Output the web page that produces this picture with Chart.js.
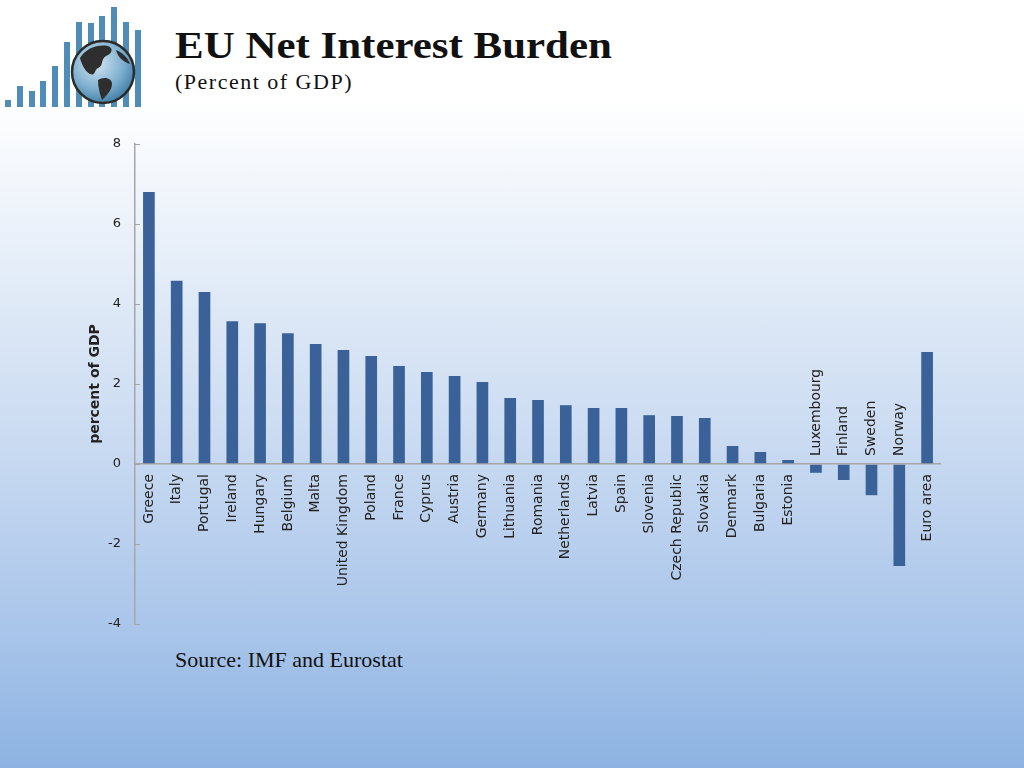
<!DOCTYPE html>
<html>
<head>
<meta charset="utf-8">
<script src="https://cdn.jsdelivr.net/npm/chart.js@4/dist/chart.umd.min.js"></script>
<style>
  html, body { margin: 0; padding: 0; }
  body {
    width: 1024px; height: 768px; overflow: hidden; position: relative;
    background: linear-gradient(to bottom, #ffffff 0%, #ffffff 13%, #e4edf8 35%, #c9daf1 58%, #a9c5ea 82%, #8db3e2 100%);
    font-family: "Liberation Serif", serif;
  }
  #logo { position: absolute; left: 0; top: 0; }
  .txt { position: absolute; left: 175px; white-space: nowrap; color: #111; line-height: 1; transform-origin: left top; }
  #title { top: 26px; font: bold 38px "Liberation Serif", serif; line-height: 1; transform: scaleX(1.13); }
  #subtitle { top: 71px; font: 22px "Liberation Serif", serif; line-height: 1; letter-spacing: 1.5px; }
  #source { top: 649px; font: 22px "Liberation Serif", serif; line-height: 1; }
  #wrap { position: absolute; left: 0; top: 0; width: 1024px; height: 768px; }
</style>
</head>
<body>
<svg id="logo" width="150" height="112" viewBox="0 0 150 112">
  <defs>
    <radialGradient id="gl" cx="0.4" cy="0.35" r="0.7">
      <stop offset="0" stop-color="#d4e6f2"/>
      <stop offset="0.6" stop-color="#7fb0cf"/>
      <stop offset="1" stop-color="#3c7aa3"/>
    </radialGradient>
  </defs>
  <g fill="#4f8db8">
    <rect x="5" y="100" width="6" height="7"/>
    <rect x="17" y="86" width="6" height="21"/>
    <rect x="29" y="91" width="6" height="16"/>
    <rect x="40" y="81" width="6" height="26"/>
    <rect x="52" y="66" width="6" height="41"/>
    <rect x="64" y="42" width="6" height="65"/>
    <rect x="76" y="22" width="6" height="85"/>
    <rect x="88" y="23" width="6" height="84"/>
    <rect x="99" y="16" width="6" height="91"/>
    <rect x="111" y="7" width="6" height="100"/>
    <rect x="123" y="22" width="6" height="85"/>
    <rect x="135" y="30" width="6" height="77"/>
  </g>
  <circle cx="103" cy="72" r="31" fill="url(#gl)" stroke="#2b2b2b" stroke-width="2.5"/>
  <path d="M80 58 C86 48 98 44 108 46 C114 48 112 54 106 56 C100 60 104 66 98 68 C94 70 96 76 90 74 C86 72 82 66 80 58 Z" fill="#2e2e2e"/>
  <path d="M98 80 C104 76 112 78 112 84 C112 90 106 96 102 100 C100 94 98 88 98 80 Z" fill="#2e2e2e"/>
  <path d="M116 50 C122 52 128 58 130 64 C124 62 118 58 116 50 Z" fill="#2e2e2e"/>
</svg>
<div id="title" class="txt">EU Net Interest Burden</div>
<div id="subtitle" class="txt">(Percent of GDP)</div>
<div id="source" class="txt">Source: IMF and Eurostat</div>
<div id="wrap"><canvas id="c" width="1024" height="768"></canvas></div>
<script>
const categories = ["Greece","Italy","Portugal","Ireland","Hungary","Belgium","Malta","United Kingdom","Poland","France","Cyprus","Austria","Germany","Lithuania","Romania","Netherlands","Latvia","Spain","Slovenia","Czech Republic","Slovakia","Denmark","Bulgaria","Estonia","Luxembourg","Finland","Sweden","Norway","Euro area"];
const netInterest = [6.8,4.58,4.3,3.57,3.52,3.27,3.0,2.85,2.7,2.45,2.3,2.2,2.05,1.65,1.6,1.47,1.4,1.4,1.22,1.2,1.15,0.45,0.3,0.1,-0.22,-0.4,-0.78,-2.55,2.8];
const yTicks = [-4,-2,0,2,4,6,8];
const yTitle = "percent of GDP";

const axisGrey = '#a6a6a6';
const labelFont = '14px "DejaVu Sans", Verdana, sans-serif';

const catLabels = {
  id: 'catLabels',
  afterDatasetsDraw(chart) {
    const ctx = chart.ctx, xs = chart.scales.x, ys = chart.scales.y;
    const y0 = ys.getPixelForValue(0);
    ctx.save();
    ctx.strokeStyle = axisGrey; ctx.lineWidth = 1;
    yTicks.forEach(v => {
      const py = Math.round(ys.getPixelForValue(v)) + 0.5;
      ctx.beginPath(); ctx.moveTo(xs.left, py); ctx.lineTo(xs.left + 5, py); ctx.stroke();
    });
    ctx.font = labelFont; ctx.fillStyle = '#222'; ctx.textBaseline = 'middle';
    categories.forEach((name, i) => {
      const px = xs.getPixelForValue(i);
      const v = netInterest[i];
      ctx.save();
      ctx.translate(px, y0);
      ctx.rotate(-Math.PI / 2);
      if (v >= 0) { ctx.textAlign = 'right'; ctx.fillText(name, -10, 0); }
      else { ctx.textAlign = 'left'; ctx.fillText(name, 8, 0); }
      ctx.restore();
    });
    ctx.restore();
  }
};

new Chart(document.getElementById('c'), {
  type: 'bar',
  data: {
    labels: categories,
    datasets: [{ data: netInterest, backgroundColor: '#3a6198', barPercentage: 0.42, categoryPercentage: 1.0 }]
  },
  options: {
    responsive: false, animation: false,
    layout: { padding: { left: 62, right: 83, top: 144, bottom: 144 } },
    plugins: { legend: { display: false }, tooltip: { enabled: false } },
    scales: {
      x: { display: false, offset: true },
      y: {
        min: -4, max: 8,
        afterFit: s => { s.width = 73; },
        afterBuildTicks: s => { s.ticks = yTicks.map(v => ({ value: v })); },
        ticks: { padding: 14, color: '#222', font: { family: '"DejaVu Sans", Verdana, sans-serif', size: 13 } },
        grid: { drawTicks: false, color: c => (c.tick && c.tick.value === 0) ? axisGrey : 'rgba(0,0,0,0)', lineWidth: 1.5 },
        border: { display: true, color: axisGrey, width: 1.5 },
        title: { display: true, text: yTitle, color: '#222', padding: { top: 25, bottom: 0 }, font: { family: '"DejaVu Sans", Verdana, sans-serif', size: 14, weight: 'bold' } }
      }
    }
  },
  plugins: [catLabels]
});
</script>
</body>
</html>
